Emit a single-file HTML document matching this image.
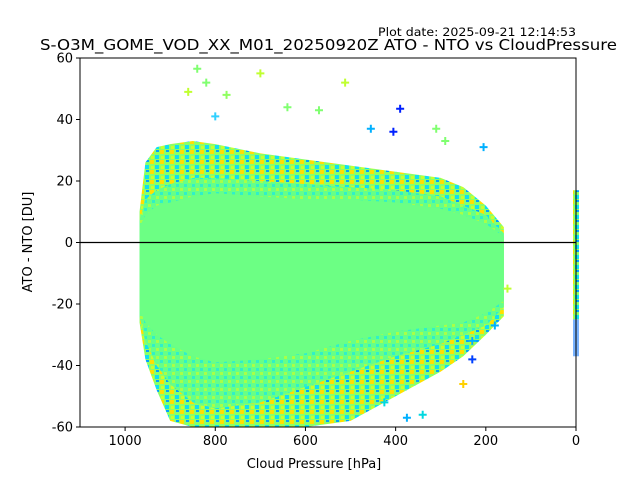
<!DOCTYPE html>
<html><head><meta charset="utf-8"><style>
body{margin:0;background:#fff;}
svg text{font-family:"DejaVu Sans","Liberation Sans",sans-serif;}
</style></head><body>
<svg id="chart" width="640" height="480" viewBox="0 0 640 480" xmlns="http://www.w3.org/2000/svg">
<defs>
<pattern id="mix" width="10" height="10" patternUnits="userSpaceOnUse">
<rect width="10" height="10" fill="#8cff66"/>
<rect x="0" y="0" width="4" height="4" fill="#ffe000"/>
<rect x="5" y="5" width="4" height="4" fill="#10e0f0"/>
<rect x="6" y="0" width="3" height="2" fill="#00a0ff"/>
<rect x="1" y="6" width="3" height="3" fill="#c8ff2e"/>
</pattern>
<pattern id="mid" width="8" height="8" patternUnits="userSpaceOnUse">
<rect width="8" height="8" fill="#66ff88"/>
<rect x="0" y="0" width="3" height="3" fill="#30f0c8"/>
<rect x="4" y="4" width="3" height="3" fill="#a8ff48"/>
</pattern>
</defs>
<text x="378" y="36" font-size="11.5" textLength="198" lengthAdjust="spacingAndGlyphs">Plot date: 2025-09-21 12:14:53</text>
<text x="40" y="50" font-size="15.5" textLength="577" lengthAdjust="spacingAndGlyphs">S-O3M_GOME_VOD_XX_M01_20250920Z ATO - NTO vs CloudPressure</text>
<g id="plot"></g>
<rect x="80" y="58" width="496" height="369" fill="none" stroke="#000" stroke-width="1"/>
<g id="axes"></g>
<text x="314" y="468" font-size="13" text-anchor="middle">Cloud Pressure [hPa]</text>
<text transform="translate(32,242) rotate(-90)" font-size="13" text-anchor="middle">ATO - NTO [DU]</text>
</svg>
<script>
const xTicks=[1000,800,600,400,200,0];
const yTicks=[60,40,20,0,-20,-40,-60];
const envP=[968,955,930,900,850,800,700,600,500,400,300,250,200,160];
const outerTop=[10,26,31,32,33,32,29,27,25,23,21,18,12,5];
const outerBot=[-26,-38,-48,-58,-62,-62,-62,-62,-58,-50,-42,-37,-30,-24];
const coreTop=[5,9,12,13,15,16,15,14,14,13,11,9,6,2];
const coreBot=[-22,-26,-30,-33,-37,-39,-38,-36,-32,-29,-27,-26,-23,-19];
const midTop=[7,14,17,19,21,21,20,19,18,17,15,12,9,3];
const midBot=[-24,-32,-40,-46,-52,-54,-52,-47,-42,-37,-33,-30,-27,-21];
const outP=[840,700,800,512,390,405,455,775,310,290,205,180,860,820,640,570,230,152,340,375,250,640,425,230];
const outV=[56.5,55,41,52,43.5,36,37,48,37,33,31,-27,49,52,44,43,-38,-15,-56,-57,-46,-62,-52,-32];
const outC=["#80ff70","#c0ff30","#30d0ff","#c0ff30","#0020ff","#0020ff","#00b0ff","#90ff60","#80ff70","#80ff70","#00b0ff","#00b0ff","#c0ff30","#80ff70","#80ff70","#80ff70","#0040ff","#c0ff30","#00d8e0","#00b0ff","#ffd000","#ffd000","#00d8e0","#00b0ff"];
const colTop=17, colBot=-25, colBlueBot=-37;
const X0=80,X1=576,Y0=58,Y1=427;
const x=p=>X1-(p/1100)*(X1-X0);
const y=v=>Y0+(60-v)/120*(Y1-Y0);
const NS="http://www.w3.org/2000/svg";
const plot=document.getElementById('plot'),axes=document.getElementById('axes');
function mk(t,a,parent){const e=document.createElementNS(NS,t);for(const k in a)e.setAttribute(k,a[k]);parent.appendChild(e);return e;}
function band(top,bot,fill,name){
 let pts=envP.map((p,i)=>x(p)+','+Math.max(Y0,y(top[i])));
 for(let i=envP.length-1;i>=0;i--)pts.push(x(envP[i])+','+Math.min(Y1,y(bot[i])));
 const e=mk('polygon',{points:pts.join(' '),fill:fill},plot);
 
 
}
band(outerTop,outerBot,'url(#mix)','outer-scatter-band');
band(midTop,midBot,'url(#mid)','middle-scatter-band');
band(coreTop,coreBot,'#6cff84','core-scatter-band');
outP.forEach((p,i)=>{
 const cx=x(p),cy=y(outV[i]);
 if(cy<Y0||cy>Y1)return;
 const e=mk('path',{d:`M${cx-4},${cy}H${cx+4}M${cx},${cy-4}V${cy+4}`,stroke:outC[i],'stroke-width':2},plot);
 
 
});
let c1=mk('rect',{x:x(0)-3,y:y(colTop),width:6,height:y(colBot)-y(colTop),fill:'url(#mix)'},plot);


let c2=mk('rect',{x:x(0)-3,y:y(colBot),width:6,height:y(colBlueBot)-y(colBot),fill:'#2080ff',opacity:0.6},plot);


let zl=mk('line',{x1:X0,x2:X1,y1:y(0),y2:y(0),stroke:'#000','stroke-width':1.2},plot);


xTicks.forEach(t=>{
 const l=mk('line',{x1:x(t),x2:x(t),y1:Y1,y2:Y1+4,stroke:'#000'},axes);
 
 
 const tx=mk('text',{x:x(t),y:Y1+18,'font-size':13,'text-anchor':'middle'},axes);tx.textContent=t;
 
 
});
yTicks.forEach(t=>{
 const l=mk('line',{x1:X0-4,x2:X0,y1:y(t),y2:y(t),stroke:'#000'},axes);
 
 
 const tx=mk('text',{x:X0-7,y:y(t)+4.5,'font-size':13,'text-anchor':'end'},axes);tx.textContent=t;
 
 
});
</script>
</body></html>
